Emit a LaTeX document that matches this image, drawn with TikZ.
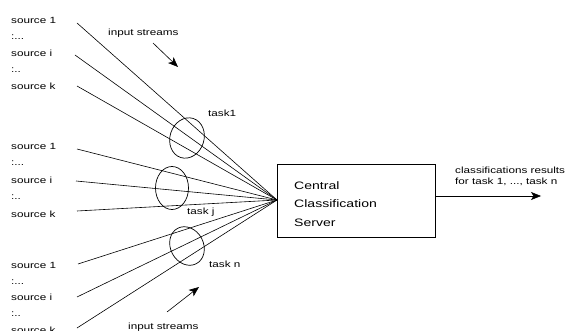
\documentclass[tikz,border=0pt]{standalone}
\usepackage{fontspec}
\setmainfont{Liberation Sans}[FakeStretch=1.3]
\usetikzlibrary{arrows.meta,shapes.geometric}
\begin{document}
\begin{tikzpicture}[x=1pt,y=-1pt,
  lbl/.style={anchor=base west,inner sep=0pt,font=\fontsize{9}{11}\selectfont},
  stream/.style={line width=0.6pt},
  taskell/.style={draw,ellipse,line width=0.7pt},
  bigarrow/.style={line width=0.6pt,-{Stealth[length=10pt,width=8pt,inset=2.5pt]}}]
\useasboundingbox (0,0) rectangle (567,331);
% box
\node[draw,line width=0.7pt,minimum width=158pt,minimum height=73pt,anchor=north west,inner sep=0pt] (srv) at (277,164) {};
\node[anchor=north west,align=left,inner sep=0pt,font=\fontsize{10.8}{18.5}\selectfont] (srvtxt) at (294,181) {Central\\Classification\\Server};
\coordinate (c) at (277,200);
% group 1
\node[lbl] (a1) at (11,24) {source 1};
\node[lbl] (ad1) at (11,40) {:...};
\node[lbl] (ai) at (11,57) {source i};
\node[lbl] (ad2) at (11,73) {:..};
\node[lbl] (ak) at (11,90) {source k};
\coordinate (pa1) at (77,23);
\coordinate (pai) at (75,55);
\coordinate (pak) at (77,86);
% group 2
\node[lbl] (b1) at (11,150) {source 1};
\node[lbl] (bd1) at (11,166) {:...};
\node[lbl] (bi) at (11,184) {source i};
\node[lbl] (bd2) at (11,200) {:..};
\node[lbl] (bk) at (11,217) {source k};
\coordinate (pb1) at (77,149);
\coordinate (pbi) at (76,181);
\coordinate (pbk) at (77,211);
% group 3
\node[lbl] (c1) at (11,268) {source 1};
\node[lbl] (cd1) at (11,284) {:...};
\node[lbl] (ci) at (11,300) {source i};
\node[lbl] (cd2) at (11,316) {:..};
\node[lbl] (ck) at (11,333) {source k};
\coordinate (pc1) at (78,264);
\coordinate (pci) at (77,297);
\coordinate (pck) at (77,328);
\foreach \p in {pa1,pai,pak,pb1,pbi,pbk,pc1,pci,pck}
  \draw[stream] (\p) -- (c);
% ellipses
\node[taskell,minimum width=34pt,minimum height=41pt,rotate=-18,inner sep=0pt] (e1) at (187,138) {};
\node[taskell,minimum width=33pt,minimum height=43pt,inner sep=0pt] (ej) at (172,188) {};
\node[taskell,minimum width=33pt,minimum height=40pt,rotate=28,inner sep=0pt] (en) at (187,246) {};
\node[lbl] (t1) at (208,117) {task1};
\node[lbl] (tj) at (187,214) {task j};
\node[lbl] (tn) at (209,267) {task n};
% input streams
\node[lbl] (is1) at (108,36) {input streams};
\coordinate (is1a) at (153,43);
\coordinate (is1b) at (178,67);
\draw[bigarrow] (is1a) -- (is1b);
\node[lbl] (is2) at (128,329) {input streams};
\coordinate (is2a) at (167,312);
\coordinate (is2b) at (199,287);
\draw[bigarrow] (is2a) -- (is2b);
% output
\coordinate (out) at (541,196);
\draw[bigarrow] (srv.east |- out) -- (out);
\node[lbl] (r1) at (455,174) {classifications results};
\node[lbl] (r2) at (455,185) {for task 1, ..., task n};
\end{tikzpicture}
\end{document}
